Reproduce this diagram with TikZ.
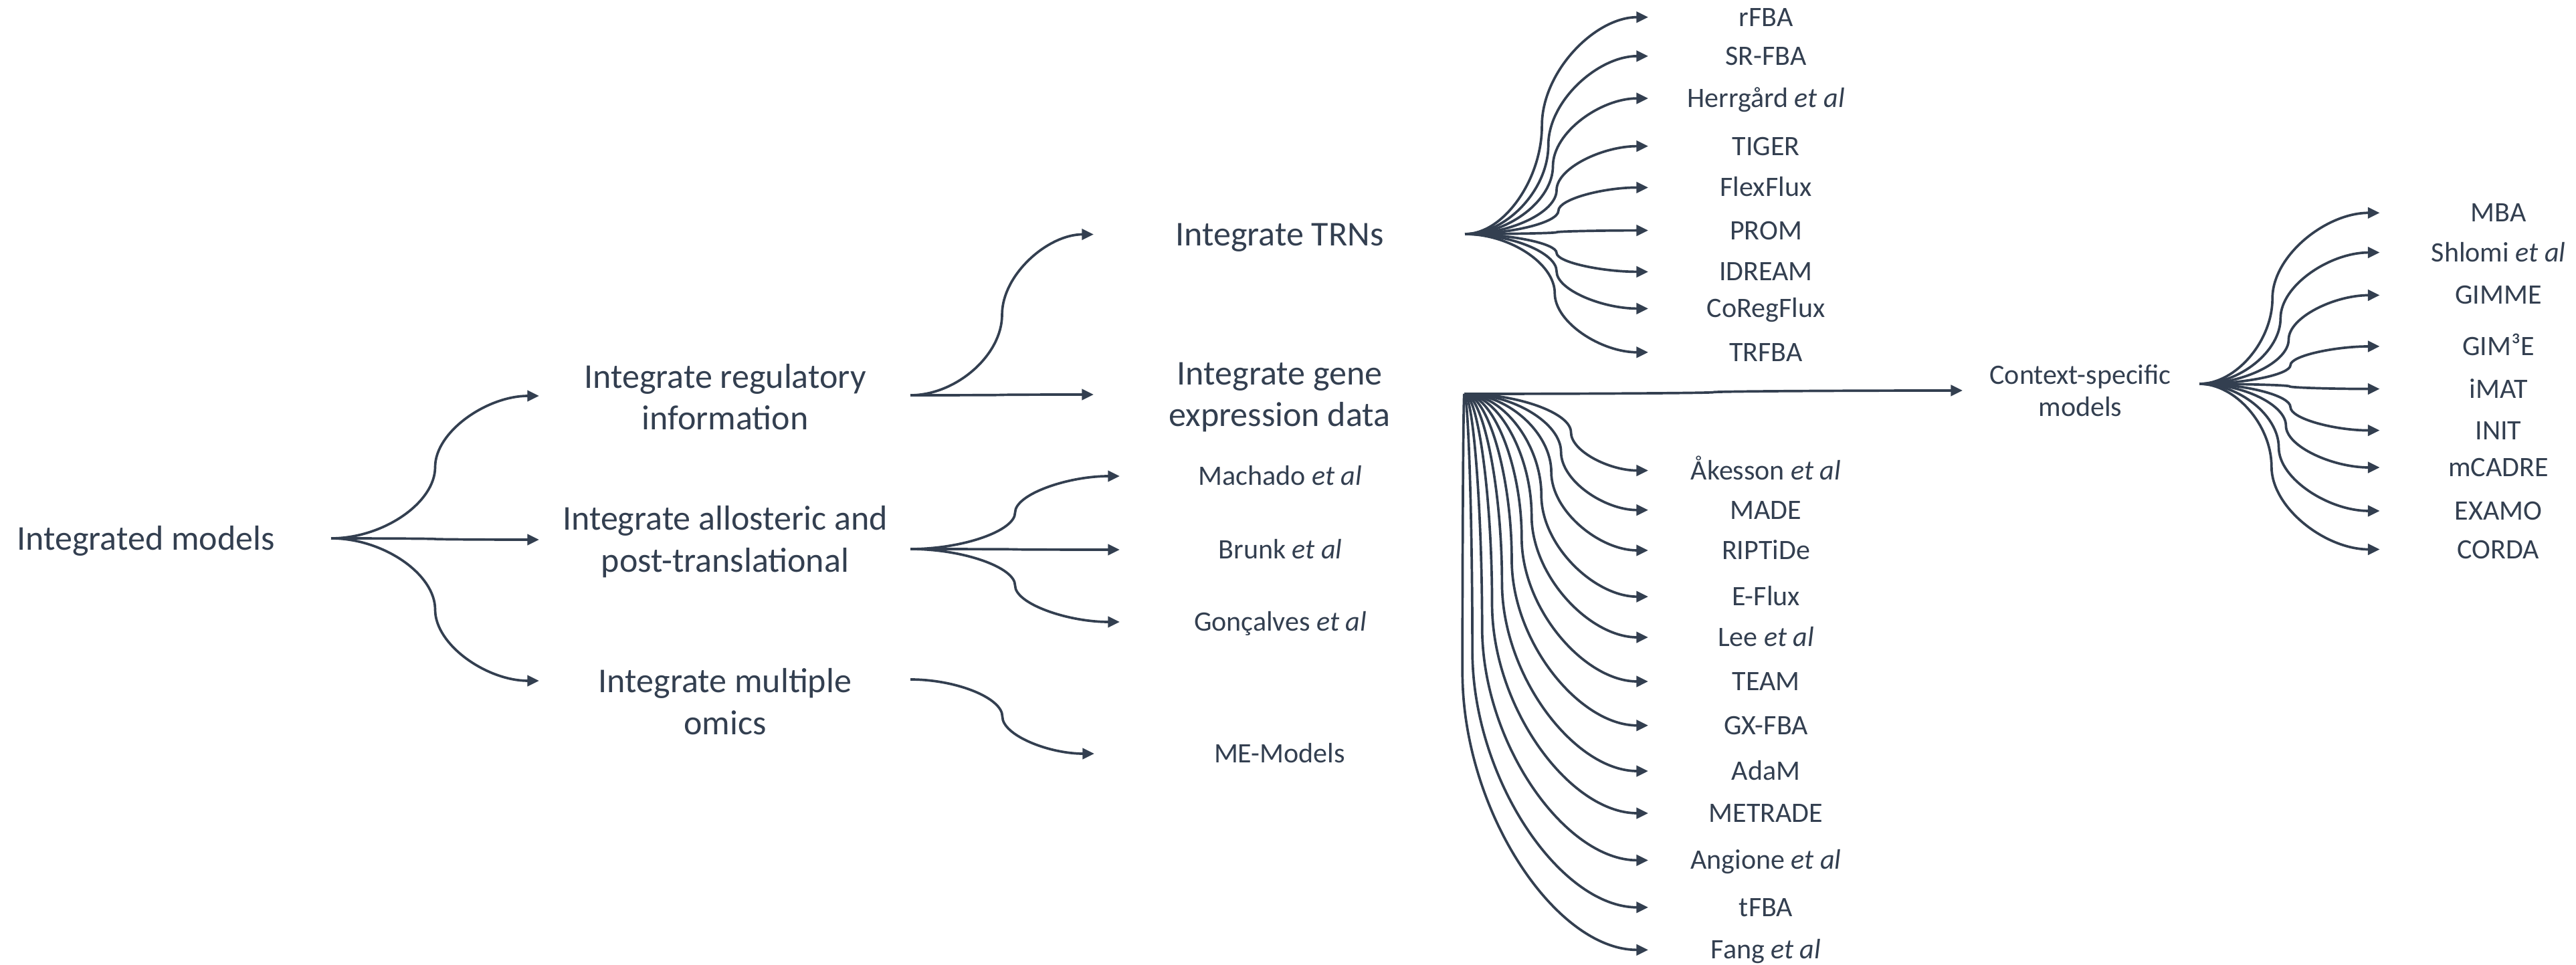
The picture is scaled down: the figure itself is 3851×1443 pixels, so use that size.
\documentclass[tikz,border=0pt]{standalone}
\usepackage{fontspec}
\setmainfont{Carlito}
\usetikzlibrary{arrows.meta,calc}
\definecolor{ink}{HTML}{333F50}
\tikzset{
  conn/.style={draw=ink, line width=1.05pt, -{Triangle[length=5pt,width=4.6pt]}},
  big/.style={font=\fontsize{14.8}{17.9}\selectfont, text=ink, inner sep=0pt, anchor=base, align=center},
  lab/.style={font=\fontsize{11.95}{13.9}\selectfont, text=ink, inner sep=0pt, anchor=base, align=center}
}
% curved connector: start, end, position of the vertical middle part (fraction of width)
\newcommand\cconn[3]{%
  \draw[conn] let \p1=(#1), \p2=(#2), \p3=($(#1)!#3!(#2)$) in
    (#1) .. controls ({0.5*\x1+0.5*\x3},\y1) and (\x3,{0.75*\y1+0.25*\y2})
    .. (\x3,{0.5*\y1+0.5*\y2})
    .. controls (\x3,{0.25*\y1+0.75*\y2}) and ({0.5*\x3+0.5*\x2},\y2) .. (#2);}
\begin{document}
\begin{tikzpicture}[x=0.01cm,y=-0.01cm]
\useasboundingbox (0,0) rectangle (3851,1443);

% level 0
\node[big] (root) at (218,822) {Integrated models};
\coordinate (r0) at (495,805);

% level 1 (base anchor = baseline of the last line)
\node[big] (reg) at (1084,643) {Integrate regulatory\\information};
\node[big] (allo) at (1084,855.5) {Integrate allosteric and\\post-translational};
\node[big] (multi) at (1084,1098) {Integrate multiple\\omics};
\coordinate (t1a) at (806,592);
\coordinate (t1b) at (806,807);
\coordinate (t1c) at (806,1018);
\cconn{r0}{t1a}{0.5}
\cconn{r0}{t1b}{0.5}
\cconn{r0}{t1c}{0.5}

% level 2
\coordinate (f2a) at (1361,591);
\coordinate (f2b) at (1361,821);
\coordinate (f2c) at (1361,1016);
\coordinate (t2trn) at (1635,350.5);
\coordinate (t2gene) at (1635,590);
\coordinate (t2mach) at (1674,712);
\coordinate (t2brunk) at (1674,822);
\coordinate (t2gonc) at (1674,930);
\coordinate (t2me) at (1636,1127);
\cconn{f2a}{t2trn}{0.5}
\cconn{f2a}{t2gene}{0.5}
\cconn{f2b}{t2mach}{0.5}
\cconn{f2b}{t2brunk}{0.5}
\cconn{f2b}{t2gonc}{0.5}
\cconn{f2c}{t2me}{0.5}

\node[big] (trn) at (1913,368) {Integrate TRNs};
\node[big] (gene) at (1913,638) {Integrate gene\\expression data};
\node[lab] (mach) at (1914,725.5) {Machado \textit{et al}};
\node[lab] (brunk) at (1914,835.5) {Brunk \textit{et al}};
\node[lab] (gonc) at (1914,943.5) {Gonçalves \textit{et al}};
\node[lab] (me) at (1913,1140.5) {ME-Models};

% TRN methods
\coordinate (ft) at (2190,350);
\foreach \ty/\ad/\lab [count=\i] in {
  25.7/0.42/rFBA,
  83.9/0.455/SR-FBA,
  147.1/0.48/Herrgård \textit{et al},
  218.6/0.5/TIGER,
  280.4/0.51/FlexFlux,
  344.6/0.5/PROM,
  406.4/0.5/IDREAM,
  461.4/0.5/CoRegFlux,
  526.8/0.49/TRFBA}{
  \coordinate (trt\i) at (2464,\ty);
  \cconn{ft}{trt\i}{\ad}
  \node[lab] (trl\i) at (2640,\ty+13.5) {\lab};
}

% gene expression methods
\coordinate (fg) at (2189,589);
\foreach \ty/\ad/\lab [count=\i] in {
  703.6/0.58/Åkesson \textit{et al},
  762.7/0.526/MADE,
  823/0.473/RIPTiDe,
  892.2/0.419/E-Flux,
  953/0.366/Lee \textit{et al},
  1019/0.312/TEAM,
  1084.8/0.258/GX-FBA,
  1153/0.205/AdaM,
  1216/0.151/METRADE,
  1286.4/0.097/Angione \textit{et al},
  1356.8/0.044/tFBA,
  1420.4/-0.01/Fang \textit{et al}}{
  \coordinate (gnt\i) at (2464,\ty);
  \cconn{fg}{gnt\i}{\ad}
  \node[lab] (gnl\i) at (2640,\ty+13.5) {\lab};
}

% context-specific models
\coordinate (tctx) at (2934,584);
\cconn{fg}{tctx}{0.5}
\node[lab] (ctx) at (3110,623) {Context-specific\\models};
\coordinate (fc) at (3288,574);
\foreach \ty/\ad/\lab [count=\i] in {
  318.3/0.405/MBA,
  377.6/0.45/Shlomi \textit{et al},
  441.5/0.495/GIMME,
  518/0.505/GIM³E,
  581.6/0.5/iMAT,
  643.6/0.505/INIT,
  699/0.48/mCADRE,
  764/0.44/EXAMO,
  821.5/0.40/CORDA}{
  \coordinate (cxt\i) at (3557.5,\ty);
  \cconn{fc}{cxt\i}{\ad}
  \node[lab] (cxl\i) at (3735,\ty+13.5) {\lab};
}
\end{tikzpicture}
\end{document}
